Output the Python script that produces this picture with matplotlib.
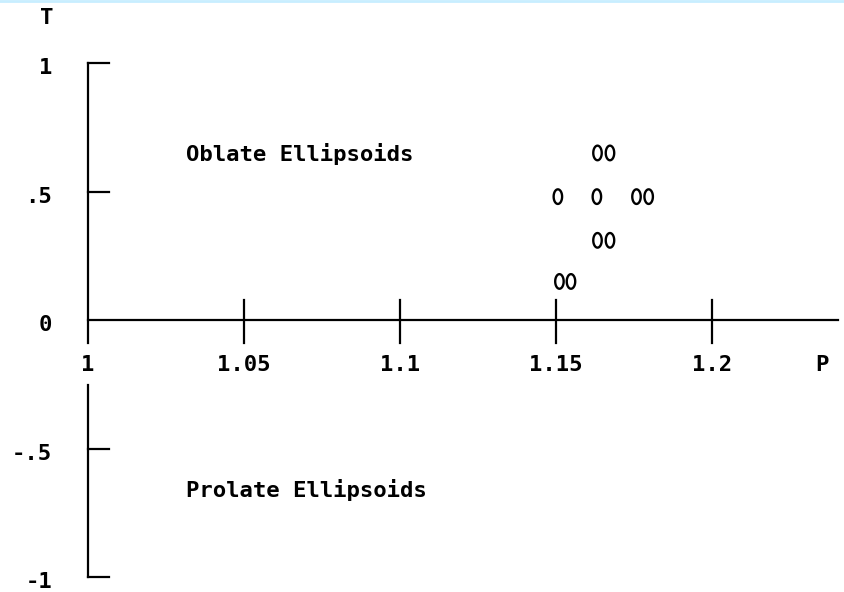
import numpy as np
import matplotlib.pyplot as plt
from matplotlib.path import Path

# P-T plot values
p_vals = [1.1506, 1.1631, 1.1758, 1.1797, 1.1633, 1.1673, 1.1633, 1.1673, 1.1511, 1.1548]
t_vals = [0.48, 0.48, 0.48, 0.48, 0.65, 0.65, 0.31, 0.31, 0.15, 0.15]

x_ticks = [1.0, 1.05, 1.1, 1.15, 1.2]
x_tick_labels = ["1", "1.05", "1.1", "1.15", "1.2"]
y_ticks = [1.0, 0.5, -0.5, -1.0]
y_tick_labels = ["1", ".5", "-.5", "-1"]

FONT = "DejaVu Sans Mono"
FS = 16
WEIGHT = "bold"

fig = plt.figure(figsize=(8.44, 5.92), dpi=100)
ax = fig.add_axes([0, 0, 1, 1])
ax.set_xlim(1 - 88 / 3120, 1 + 756 / 3120)
ax.set_ylim(-272 / 257, 320 / 257)
ax.axis("off")

lw = 1.6
# horizontal axis with crossing ticks
ax.plot([1.0, 1.2404], [0, 0], color="black", lw=lw)
for xt in x_ticks[1:]:
    ax.plot([xt, xt], [-0.088, 0.078], color="black", lw=lw)
# vertical axis, broken around the "1" label
ax.plot([1.0, 1.0], [1.0, -0.088], color="black", lw=lw)
ax.plot([1.0, 1.0], [-0.253, -1.0], color="black", lw=lw)
for yt in y_ticks:
    ax.plot([1.0, 1.0066], [yt, yt], color="black", lw=lw)

# tick labels
for xt, lab in zip(x_ticks, x_tick_labels):
    ax.text(xt, -0.175, lab, ha="center", va="center", family=FONT, fontsize=FS, weight=WEIGHT)
ax.text(1.2351, -0.175, "P", ha="center", va="center", family=FONT, fontsize=FS, weight=WEIGHT)
for yt, lab in zip(y_ticks + [0.0], y_tick_labels + ["0"]):
    ax.text(0.9885, yt - 0.02, lab, ha="right", va="center", family=FONT, fontsize=FS, weight=WEIGHT)
ax.text(0.9868, 1.175, "T", ha="center", va="center", family=FONT, fontsize=FS, weight=WEIGHT)

ax.text(1.0314, 0.645, "Oblate Ellipsoids", ha="left", va="center", family=FONT, fontsize=FS, weight=WEIGHT)
ax.text(1.0314, -0.66, "Prolate Ellipsoids", ha="left", va="center", family=FONT, fontsize=FS, weight=WEIGHT)

# data points drawn as tall open ovals, like the printed "O" of the original
theta = np.linspace(0, 2 * np.pi, 60)
oval = Path(np.column_stack([0.29 * np.cos(theta), 0.5 * np.sin(theta)]), closed=True)
ax.scatter(p_vals, t_vals, marker=oval, s=10.5 ** 2, facecolors="none",
           edgecolors="black", linewidths=1.7)

# thin light-blue strip along the top edge
fig.add_artist(plt.Line2D([0, 1], [0.999, 0.999], color="#c8eeff", lw=2, transform=fig.transFigure))

fig.savefig("out.png", dpi=100)
